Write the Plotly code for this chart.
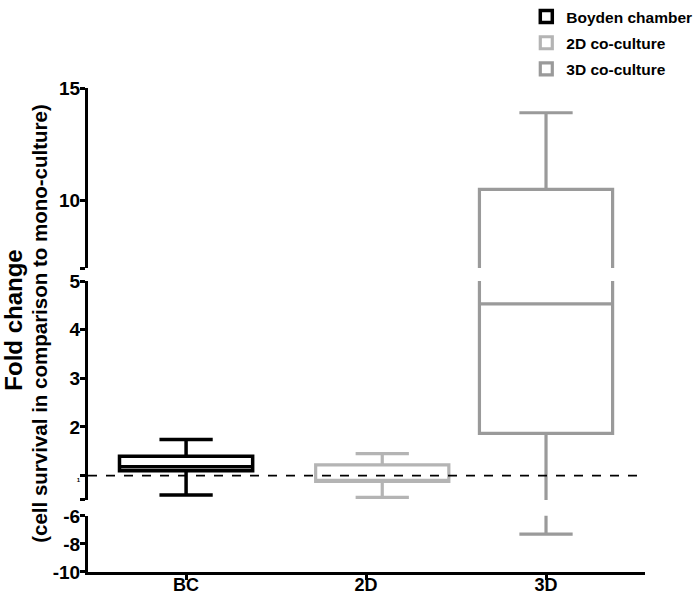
import plotly.graph_objects as go

# ---------------- data ----------------
categories = ["BC", "2D", "3D"]
legend_names = ["Boyden chamber", "2D co-culture", "3D co-culture"]
whisker_low = [0.60, 0.55, -7.3]
q1 = [1.10, 0.88, 1.87]
median = [1.18, 0.90, 4.53]
q3 = [1.40, 1.22, 10.5]
whisker_high = [1.74, 1.45, 13.9]
reference_level = 1.0

top_ticks = [7, 10, 15]
top_labels = ["", "10", "15"]
mid_ticks = [0.5, 1, 2, 3, 4, 5]
mid_labels = ["", '<span style="font-size:6px">1</span>', "2", "3", "4", "5"]
bottom_ticks = [-10, -8, -6]
bottom_labels = ["-10", "-8", "-6"]

# ---------------- style ----------------
colors = ["#000000", "#b4b4b4", "#9a9a9a"]
line_widths = [3.5, 3.2, 3.2]
x_shift = [0.0, 0.09, 0.0]   # small horizontal offset of the 2D column
segment_ranges = [[7, 15], [0.5, 5], [-10, -6]]
segment_domains = [[0.628, 1.0], [0.149, 0.601], [0.0, 0.116]]
FONT = "Arial, Liberation Sans, sans-serif"

fig = go.Figure()
for row in range(3):
    xa = "x" if row == 0 else f"x{row + 1}"
    ya = "y" if row == 0 else f"y{row + 1}"
    for i, cat in enumerate(categories):
        fig.add_trace(go.Box(
            x=[i + x_shift[i]],
            q1=[q1[i]], median=[median[i]], q3=[q3[i]],
            lowerfence=[whisker_low[i]], upperfence=[whisker_high[i]],
            name=legend_names[i],
            legendgroup=legend_names[i],
            showlegend=(row == 1),
            boxpoints=False,
            width=0.74,
            whiskerwidth=0.4,
            fillcolor="white",
            line=dict(color=colors[i], width=line_widths[i]),
            xaxis=xa, yaxis=ya,
            hoverinfo="skip",
        ))

axis_common = dict(showgrid=False, zeroline=False, showline=True, linecolor="black",
                   linewidth=3, ticks="outside", ticklen=5, tickwidth=3, tickcolor="black",
                   tickfont=dict(family=FONT, size=19, color="black", weight="bold"))

tick_sets = [(top_ticks, top_labels), (mid_ticks, mid_labels), (bottom_ticks, bottom_labels)]
layout = {}
for row in range(3):
    xkey = "xaxis" if row == 0 else f"xaxis{row + 1}"
    ykey = "yaxis" if row == 0 else f"yaxis{row + 1}"
    ya = "y" if row == 0 else f"y{row + 1}"
    xa = "x" if row == 0 else f"x{row + 1}"
    tv, tt = tick_sets[row]
    layout[ykey] = dict(axis_common, domain=segment_domains[row], range=segment_ranges[row],
                        tickvals=tv, ticktext=tt, anchor=xa, ticklabelstandoff=-4)
    if row < 2:
        layout[xkey] = dict(range=[-0.545, 2.55], visible=False, anchor=ya, matches="x3")
    else:
        layout[xkey] = dict(axis_common, range=[-0.545, 2.55], anchor=ya,
                            tickvals=list(range(len(categories))), ticktext=categories,
                            ticklabelstandoff=-11,
                            tickfont=dict(family=FONT, size=18, color="black", weight="bold"))

fig.update_layout(**layout)

fig.add_shape(type="line", xref="x2 domain", yref="y2", x0=0, x1=1,
              y0=reference_level, y1=reference_level,
              line=dict(color="black", width=1.8, dash="dash"), layer="above")

fig.add_annotation(text="Fold change", xref="paper", yref="paper",
                   x=-0.134, y=0.52, xanchor="center", yanchor="middle",
                   textangle=-90, showarrow=False,
                   font=dict(family=FONT, size=24, color="black", weight="bold"))
fig.add_annotation(text="(cell survival in comparison to mono-culture)", xref="paper", yref="paper",
                   x=-0.087, y=0.514, xanchor="center", yanchor="middle",
                   textangle=-90, showarrow=False,
                   font=dict(family=FONT, size=20.5, color="black", weight="bold"))

fig.update_layout(
    width=698, height=596,
    margin=dict(l=88, r=53, t=88, b=24, autoexpand=False),
    paper_bgcolor="white", plot_bgcolor="white",
    showlegend=True,
    legend=dict(xref="container", yref="container", x=0.754, y=1.022,
                xanchor="left", yanchor="top", tracegroupgap=3,
                font=dict(family=FONT, size=15.5, color="black", weight="bold"),
                bgcolor="rgba(0,0,0,0)"),
)

fig.write_html("out.html", config={"displayModeBar": False},
               post_script="document.body.style.margin='0';document.body.style.overflow='hidden';")
